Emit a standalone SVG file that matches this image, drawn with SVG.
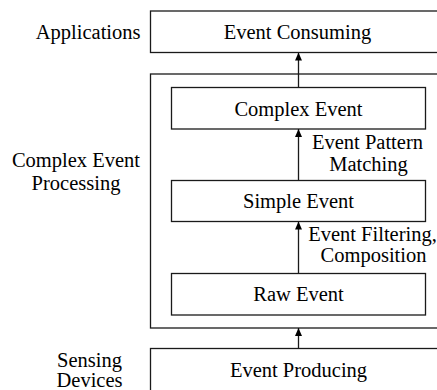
<svg xmlns="http://www.w3.org/2000/svg" width="437" height="390" viewBox="0 0 437 390">
  <style>
    .box { fill: #ffffff; stroke: #1a1a1a; stroke-width: 1.3; }
    .lbl { font-family: "Liberation Serif", "Times New Roman", serif; font-size: 20.5px; fill: #000000; }
    .mid { text-anchor: middle; }
    .end { text-anchor: end; }
    .conn { stroke: #1a1a1a; stroke-width: 1.3; fill: none; marker-end: url(#arrow); }
  </style>
  <defs>
    <marker id="arrow" markerUnits="userSpaceOnUse" markerWidth="8" markerHeight="9" refX="8" refY="4" orient="auto">
      <path d="M0,0.5 L8,4 L0,7.5 Z" fill="#000000"/>
    </marker>
  </defs>
  <rect width="437" height="390" fill="#ffffff"/>

  <!-- layer labels on the left -->
  <g id="layer-labels">
    <text class="lbl end" x="140.5" y="38.5">Applications</text>
    <text class="lbl mid" x="76" y="167">Complex Event</text>
    <text class="lbl mid" x="76" y="190">Processing</text>
    <text class="lbl mid" x="89.5" y="366.5">Sensing</text>
    <text class="lbl mid" x="89.5" y="387">Devices</text>
  </g>

  <!-- top layer -->
  <g id="event-consuming">
    <rect class="box" x="150.5" y="11" width="292" height="41.5"/>
    <text class="lbl mid" x="297.5" y="38.5">Event Consuming</text>
  </g>

  <!-- processing layer frame -->
  <g id="cep-layer">
    <rect class="box" x="150.5" y="74" width="292" height="254"/>
  </g>

  <g id="complex-event">
    <rect class="box" x="171.5" y="87.5" width="254" height="41.5"/>
    <text class="lbl mid" x="298.5" y="115.5">Complex Event</text>
  </g>

  <g id="simple-event">
    <rect class="box" x="171.5" y="180.5" width="254" height="41"/>
    <text class="lbl mid" x="298.5" y="208">Simple Event</text>
  </g>

  <g id="raw-event">
    <rect class="box" x="171.5" y="273.5" width="254" height="41.5"/>
    <text class="lbl mid" x="298.5" y="301">Raw Event</text>
  </g>

  <!-- bottom layer -->
  <g id="event-producing">
    <rect class="box" x="150.5" y="348.5" width="292" height="60"/>
    <text class="lbl mid" x="298.5" y="377">Event Producing</text>
  </g>

  <!-- upward flow between layers -->
  <g id="connectors">
    <line class="conn" x1="298.5" y1="348.5" x2="298.5" y2="328"/>
    <line class="conn" x1="298.5" y1="273.5" x2="298.5" y2="221.5"/>
    <line class="conn" x1="298.5" y1="180.5" x2="298.5" y2="129"/>
    <line class="conn" x1="298.5" y1="87.5" x2="298.5" y2="52.5"/>
    <text class="lbl mid" x="367.5" y="148.5">Event Pattern</text>
    <text class="lbl mid" x="368.5" y="170.5">Matching</text>
    <text class="lbl mid" x="372.5" y="240.5">Event Filtering,</text>
    <text class="lbl mid" x="373.5" y="262">Composition</text>
  </g>
</svg>
